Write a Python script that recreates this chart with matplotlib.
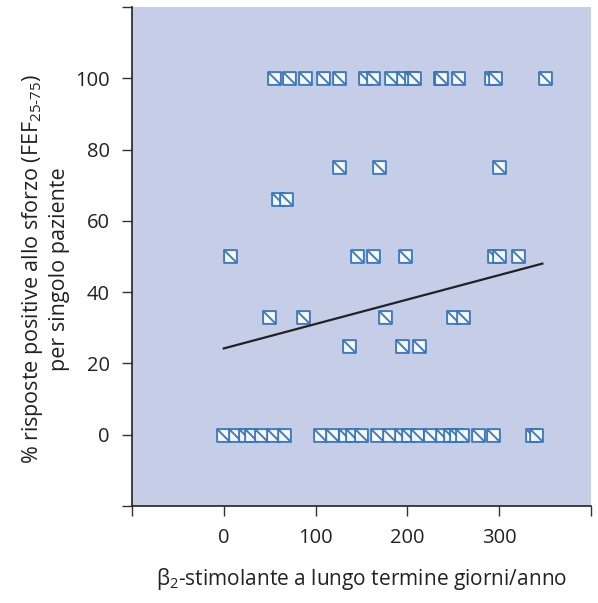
import numpy as np
import matplotlib
matplotlib.use("Agg")
import matplotlib.pyplot as plt
from matplotlib.path import Path

plt.rcParams['font.family'] = ['Open Sans', 'DejaVu Sans']
plt.rcParams['mathtext.fontset'] = 'custom'
plt.rcParams['mathtext.rm'] = 'Open Sans'
plt.rcParams['mathtext.it'] = 'Open Sans:italic'

# giorni/anno di beta2-stimolante per paziente, raggruppati per livello di risposta
x_100 = [55, 71.5, 88, 108, 125, 154, 162, 182, 195, 204, 207, 235, 237, 255, 291, 295, 350]
x_75 = [125.5, 169.6, 299.5]
x_66 = [59.5, 68]
x_50 = [7, 145, 163, 197.5, 294.5, 299.7, 321]
x_33 = [49.6, 86.4, 176, 250, 261]
x_25 = [136, 193.6, 213]
x_0 = [-1, 12, 23, 30, 41, 54, 66, 105, 118, 132, 140, 149, 167, 180, 193, 201,
       210, 225, 238, 246, 253, 260, 277, 293, 336, 340]

groups = [(x_0, 0), (x_25, 25), (x_33, 33), (x_50, 50), (x_66, 66), (x_75, 75), (x_100, 100)]

# retta di regressione (estremi)
fit_x = [0, 347]
fit_y = [24.2, 48]

xticks = [-100, 0, 100, 200, 300, 400]
xticklabels = ['', '0', '100', '200', '300', '']
yticks = [-20, 0, 20, 40, 60, 80, 100, 120]
yticklabels = ['', '0', '20', '40', '60', '80', '100', '']

# marker: quadrato con diagonale
verts = [(-0.5, 0.5), (0.5, 0.5), (0.5, -0.5), (-0.5, -0.5), (-0.5, 0.5),
         (-0.5, 0.5), (0.5, -0.5)]
codes = [Path.MOVETO, Path.LINETO, Path.LINETO, Path.LINETO, Path.CLOSEPOLY,
         Path.MOVETO, Path.LINETO]
box_marker = Path(verts, codes)

fig = plt.figure(figsize=(5.98, 6.03), dpi=100)
ax = fig.add_axes([0.2207, 0.1609, 0.9883 - 0.2207, 0.9884 - 0.1609])
ax.set_facecolor('#c6cee7')

for xs, yv in groups:
    ax.plot(xs, [yv] * len(xs), linestyle='none', marker=box_marker,
            markersize=9.2, markerfacecolor='white', markeredgecolor='#2f6fb8',
            markeredgewidth=1.4, alpha=0.9, zorder=3)

ax.plot(fit_x, fit_y, color='#222222', linewidth=1.6, zorder=4)

ax.set_xlim(-100, 400)
ax.set_ylim(-20, 120)
ax.set_xticks(xticks)
ax.set_xticklabels(xticklabels)
ax.set_yticks(yticks)
ax.set_yticklabels(yticklabels)
ax.tick_params(direction='out', length=7, width=1, color='#333333',
               labelsize=14.5, labelcolor='#222222', pad=9)

for s in ['top', 'right']:
    ax.spines[s].set_visible(False)
for s in ['left', 'bottom']:
    ax.spines[s].set_color('#222222')
    ax.spines[s].set_linewidth(1.2)

ax.set_xlabel(r'$\mathrm{\beta_2}$-stimolante a lungo termine giorni/anno',
              fontsize=15, color='#222222', labelpad=13)
ax.set_ylabel('% risposte positive allo sforzo (FEF$_{\\mathrm{25\u201075}}$)\nper singolo paziente',
              fontsize=15.5, color='#222222', labelpad=3, linespacing=1.25)
ax.yaxis.set_label_coords(-0.135, 0.475)

fig.savefig('out.png', dpi=100)
